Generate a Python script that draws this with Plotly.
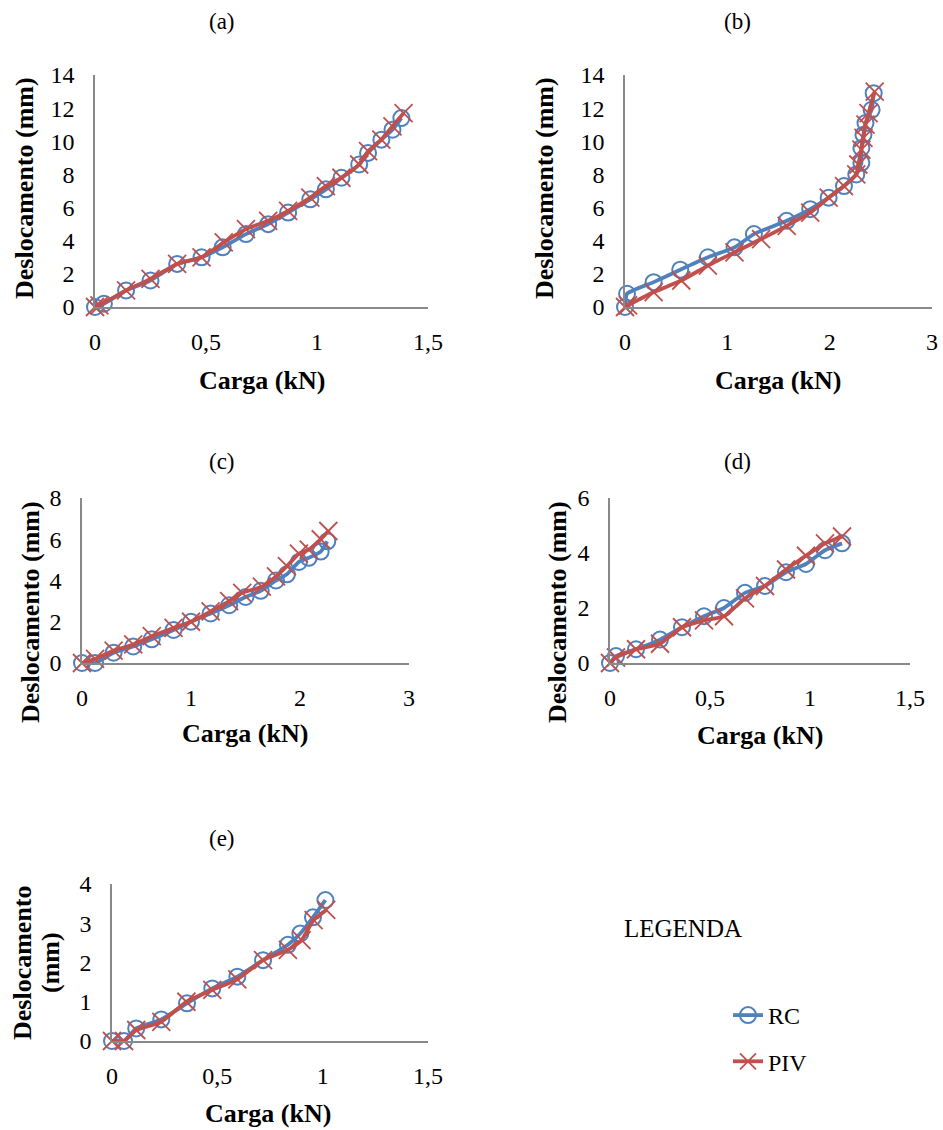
import plotly.graph_objects as go

# ---- data: carga (kN) vs deslocamento (mm) ----
# (a)
a_rc_x = [0, 0.04, 0.14, 0.25, 0.37, 0.48, 0.575, 0.68, 0.78, 0.87, 0.97, 1.04, 1.11, 1.19, 1.23, 1.29, 1.34, 1.38]
a_rc_y = [0, 0.2, 1.0, 1.6, 2.6, 3.0, 3.6, 4.4, 5.0, 5.7, 6.5, 7.1, 7.8, 8.6, 9.3, 10.1, 10.7, 11.4]
a_piv_x = [0, 0.02, 0.14, 0.25, 0.37, 0.48, 0.58, 0.68, 0.78, 0.87, 0.97, 1.04, 1.11, 1.19, 1.23, 1.29, 1.34, 1.39]
a_piv_y = [0, 0.1, 1.0, 1.7, 2.6, 3.0, 3.9, 4.7, 5.2, 5.8, 6.6, 7.3, 7.8, 8.6, 9.4, 10.1, 10.9, 11.7]
# (b)
b_rc_x = [0, 0.02, 0.28, 0.54, 0.81, 1.07, 1.26, 1.58, 1.81, 1.99, 2.14, 2.26, 2.31, 2.31, 2.33, 2.35, 2.41, 2.43]
b_rc_y = [0, 0.8, 1.5, 2.25, 3.0, 3.6, 4.4, 5.2, 5.9, 6.6, 7.3, 8.0, 8.7, 9.6, 10.4, 11.1, 11.9, 12.9]
b_piv_x = [0, 0.03, 0.28, 0.55, 0.81, 1.07, 1.33, 1.58, 1.81, 1.99, 2.14, 2.26, 2.28, 2.31, 2.33, 2.35, 2.38, 2.44]
b_piv_y = [0, 0.1, 0.9, 1.6, 2.5, 3.3, 4.1, 4.9, 5.7, 6.6, 7.3, 8.0, 8.6, 9.5, 10.2, 11.0, 11.7, 13.0]
# (c)
c_rc_x = [0, 0.12, 0.29, 0.47, 0.64, 0.84, 1.0, 1.18, 1.35, 1.5, 1.64, 1.78, 1.88, 1.99, 2.08, 2.19, 2.25]
c_rc_y = [0, 0.0, 0.5, 0.8, 1.15, 1.6, 2.0, 2.4, 2.8, 3.2, 3.5, 4.0, 4.3, 4.9, 5.1, 5.4, 5.9]
c_piv_x = [0, 0.12, 0.29, 0.47, 0.64, 0.84, 1.0, 1.18, 1.35, 1.47, 1.65, 1.78, 1.88, 1.99, 2.08, 2.19, 2.26]
c_piv_y = [0, 0.2, 0.6, 0.9, 1.3, 1.7, 2.0, 2.5, 3.0, 3.4, 3.7, 4.2, 4.7, 5.3, 5.5, 6.0, 6.4]
# (d)
d_rc_x = [0, 0.03, 0.13, 0.25, 0.36, 0.47, 0.57, 0.675, 0.775, 0.88, 0.98, 1.075, 1.16]
d_rc_y = [0, 0.25, 0.5, 0.85, 1.3, 1.7, 2.0, 2.55, 2.8, 3.3, 3.6, 4.1, 4.35]
d_piv_x = [0, 0.03, 0.13, 0.25, 0.36, 0.47, 0.57, 0.675, 0.775, 0.88, 0.98, 1.075, 1.16]
d_piv_y = [0, 0.2, 0.5, 0.7, 1.3, 1.55, 1.7, 2.35, 2.8, 3.4, 3.9, 4.35, 4.6]
# (e)
e_rc_x = [0, 0.057, 0.115, 0.234, 0.356, 0.476, 0.595, 0.717, 0.835, 0.894, 0.954, 1.013]
e_rc_y = [0, 0.0, 0.32, 0.55, 0.96, 1.34, 1.64, 2.06, 2.45, 2.74, 3.15, 3.59]
e_piv_x = [0, 0.057, 0.115, 0.234, 0.353, 0.476, 0.595, 0.717, 0.835, 0.9, 0.957, 1.017]
e_piv_y = [0, 0.0, 0.28, 0.49, 1.0, 1.3, 1.57, 2.06, 2.32, 2.57, 3.08, 3.34]

panel_labels = ["(a)", "(b)", "(c)", "(d)", "(e)"]
x_ranges = [[0, 1.5], [0, 3], [0, 3], [0, 1.5], [0, 1.5]]
x_dticks = [0.5, 1, 1, 0.5, 0.5]
y_ranges = [[0, 14], [0, 14], [0, 8], [0, 6], [0, 4]]
y_dticks = [2, 2, 2, 2, 1]

series = [
    (a_rc_x, a_rc_y, a_piv_x, a_piv_y),
    (b_rc_x, b_rc_y, b_piv_x, b_piv_y),
    (c_rc_x, c_rc_y, c_piv_x, c_piv_y),
    (d_rc_x, d_rc_y, d_piv_x, d_piv_y),
    (e_rc_x, e_rc_y, e_piv_x, e_piv_y),
]

# ---- layout geometry (pixels on a 943 x 1130 page) ----
W, H = 943, 1130
# plot areas: left, right, top, bottom
boxes = [
    (95, 428, 75, 307),
    (625, 932, 75, 307),
    (82, 409, 498, 663),
    (610, 910, 498, 663),
    (112, 428, 884, 1041),
]
# panel label centre (x, y)
label_pos = [(222, 22), (737, 22), (222, 462), (737, 462), (222, 838)]
# x-axis title centre (x, y)
xtitle_pos = [(262, 380), (778, 380), (245, 733), (760, 735), (268, 1113)]
# y-axis titles: text, centre x, centre y
ytitles = [
    ("<b>Deslocamento (mm)</b>", 25, 188),
    ("<b>Deslocamento (mm)</b>", 545, 188),
    ("<b>Deslocamento (mm)</b>", 30, 612),
    ("<b>Deslocamento (mm)</b>", 557, 612),
    ("<b>Deslocamento</b>", 22, 963),
    ("<b>(mm)</b>", 50, 963),
]

BLUE = "#4F81BD"
RED = "#C0504D"
AXIS = "#898989"
FONT = "Liberation Serif, Times New Roman, serif"

fig = go.Figure()
layout = {}
annotations = []


def note(text, x, y, size, angle=0):
    return dict(
        text=text, x=x / W, y=1 - y / H, xref="paper", yref="paper",
        xanchor="center", yanchor="middle", textangle=angle, showarrow=False,
        font=dict(family=FONT, size=size, color="black"),
    )


for i, ((rx, ry, px, py), (l, r, t, b)) in enumerate(zip(series, boxes)):
    n = "" if i == 0 else str(i + 1)
    xa, ya = "x" + n, "y" + n
    fig.add_trace(go.Scatter(
        x=rx, y=ry, xaxis=xa, yaxis=ya, mode="lines+markers", name="RC",
        legendgroup="rc", showlegend=(i == 0), cliponaxis=False,
        line=dict(color=BLUE, width=3.8, shape="spline", smoothing=0.5),
        marker=dict(symbol="circle-open", size=16, color=BLUE, line=dict(width=2)),
    ))
    fig.add_trace(go.Scatter(
        x=px, y=py, xaxis=xa, yaxis=ya, mode="lines+markers", name="PIV",
        legendgroup="piv", showlegend=(i == 0), cliponaxis=False,
        line=dict(color=RED, width=3.8, shape="spline", smoothing=0.5),
        marker=dict(symbol="x-thin-open", size=18, color=RED, line=dict(width=1.8, color=RED)),
    ))
    layout["xaxis" + n] = dict(
        domain=[l / W, r / W], anchor=ya, range=x_ranges[i], dtick=x_dticks[i], tick0=0,
        showgrid=False, zeroline=False, showline=True, linecolor=AXIS, linewidth=1.5,
        ticks="", ticklen=0, ticklabelstandoff=12, automargin=False,
        tickfont=dict(family=FONT, size=24, color="black"),
    )
    layout["yaxis" + n] = dict(
        domain=[1 - b / H, 1 - t / H], anchor=xa, range=y_ranges[i], dtick=y_dticks[i], tick0=0,
        showgrid=False, zeroline=False, showline=True, linecolor=AXIS, linewidth=1.5,
        ticks="", ticklen=0, ticklabelstandoff=14, automargin=False,
        tickfont=dict(family=FONT, size=24, color="black"),
    )
    annotations.append(note(panel_labels[i], *label_pos[i], 23))
    annotations.append(note("<b>Carga (kN)</b>", *xtitle_pos[i], 26))

for txt, x, y in ytitles:
    annotations.append(note(txt, x, y, 26, -90))

annotations.append(note("LEGENDA", 683, 928, 25))

fig.update_layout(
    **layout,
    annotations=annotations,
    width=W, height=H, autosize=False,
    margin=dict(l=0, r=0, t=0, b=0, pad=0, autoexpand=False),
    paper_bgcolor="white", plot_bgcolor="white",
    separators=",.",
    font=dict(family=FONT, color="black"),
    showlegend=True,
    legend=dict(
        x=728 / W, y=1 - 993 / H, xanchor="left", yanchor="top",
        font=dict(family=FONT, size=24, color="black"),
        traceorder="grouped", tracegroupgap=12,
        bgcolor="rgba(0,0,0,0)",
    ),
)

fig.write_html("out.html")
